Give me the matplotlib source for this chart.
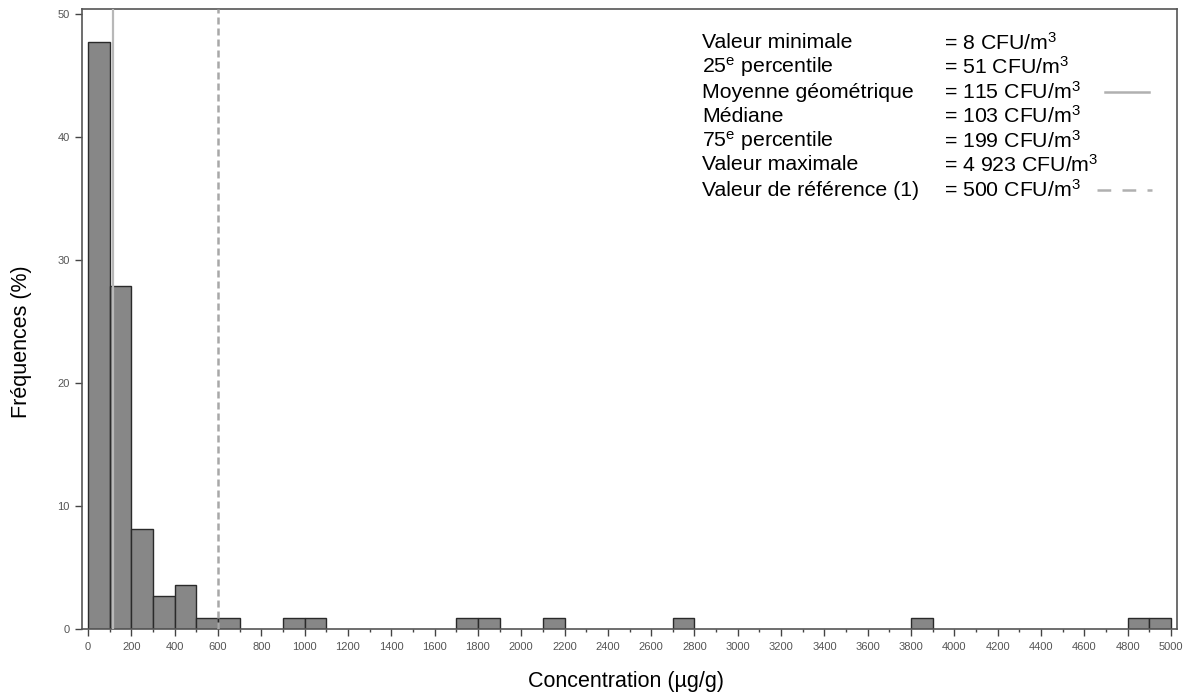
import numpy as np
import matplotlib
matplotlib.use("Agg")
import matplotlib.pyplot as plt
from matplotlib.ticker import MultipleLocator

plt.rcParams['font.family'] = ['Liberation Sans', 'DejaVu Sans']
plt.rcParams['mathtext.fontset'] = 'custom'
plt.rcParams['mathtext.rm'] = 'Liberation Sans'
plt.rcParams['mathtext.it'] = 'Liberation Sans'

# histogram bins (left edges, width 100) and frequencies in %
bin_starts = [0, 100, 200, 300, 400, 500, 600, 900, 1000, 1700, 1800,
              2100, 2700, 3800, 4800, 4900]
freqs = [47.7, 27.9, 8.1, 2.7, 3.6, 0.9, 0.9, 0.9, 0.9, 0.9, 0.9,
         0.9, 0.9, 0.9, 0.9, 0.9]
bin_width = 100

geo_mean_x = 115
ref_x = 600

stat_names = ["Valeur minimale", r"25$^{\mathrm{e}}$ percentile",
              "Moyenne géométrique", "Médiane",
              r"75$^{\mathrm{e}}$ percentile", "Valeur maximale",
              "Valeur de référence (1)"]
stat_values = ["8", "51", "115", "103", "199", "4 923", "500"]

fig = plt.figure(figsize=(11.84, 6.98), dpi=100)
ax = fig.add_axes([82 / 1184, 1 - 629 / 698, (1177 - 82) / 1184, (629 - 9) / 698])

ax.bar(bin_starts, freqs, width=bin_width, align="edge",
       color="#878787", edgecolor="#2a2a2a", linewidth=1.0, zorder=2)

ax.axvline(geo_mean_x, color="#b8b8b8", linewidth=1.6, zorder=3)
ax.axvline(ref_x, color="#a8a8a8", linewidth=1.8,
           linestyle=(0, (2.8, 1.6)), zorder=3)

ax.set_xlim(-28, 5028)
ax.set_ylim(0, 50.4)
ax.xaxis.set_major_locator(MultipleLocator(200))
ax.xaxis.set_minor_locator(MultipleLocator(100))
ax.yaxis.set_major_locator(MultipleLocator(10))

for s in ax.spines.values():
    s.set_color("#555555")
    s.set_linewidth(1.2)

ax.tick_params(axis="both", which="major", length=5, width=1, color="#444444",
               labelsize=8, labelcolor="#555555", pad=4)
ax.tick_params(axis="x", which="minor", length=2.5, width=1, color="#444444")

fig.text(22 / 1184, 1 - 342 / 698, "Fréquences (%)", rotation=90,
         ha="center", va="center", fontsize=15.5)
fig.text(626 / 1184, 1 - 681 / 698, "Concentration (µg/g)",
         ha="center", va="center", fontsize=15.5)

# stats block
row_y = [43, 67, 92, 116, 141, 165, 190]
for name, val, y in zip(stat_names, stat_values, row_y):
    fig.text(702 / 1184, 1 - y / 698, name, ha="left", va="center", fontsize=15.3)
    fig.text(944 / 1184, 1 - y / 698, "= " + val + r" CFU/m$^3$",
             ha="left", va="center", fontsize=15.3)

fig.add_artist(plt.Line2D([1105 / 1184, 1149 / 1184], [1 - 92 / 698, 1 - 92 / 698],
                          color="#b0b0b0", linewidth=1.8))
fig.add_artist(plt.Line2D([1097 / 1184, 1152 / 1184], [1 - 190 / 698, 1 - 190 / 698],
                          color="#b0b0b0", linewidth=1.8, linestyle=(0, (5.5, 4.5))))

fig.savefig("out.png", dpi=100)
